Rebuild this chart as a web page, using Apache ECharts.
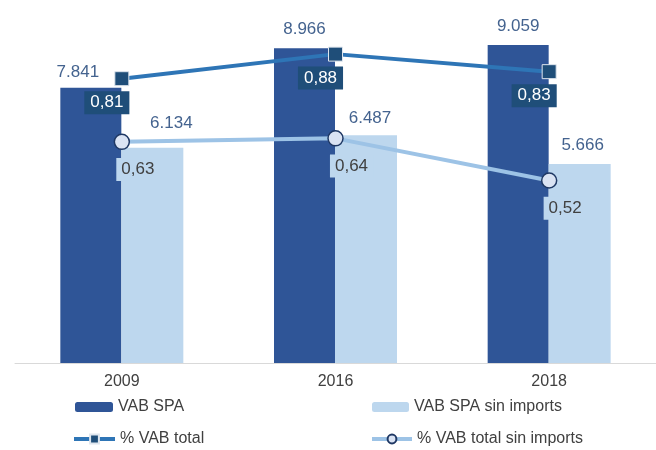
<!DOCTYPE html>
<html>
<head>
<meta charset="utf-8">
<script src="https://cdn.jsdelivr.net/npm/echarts@6/dist/echarts.min.js"></script>
<style>
  html, body { margin: 0; padding: 0; background: #fff; }
  #chart { width: 656px; height: 450px; }
</style>
</head>
<body>
<div id="chart"></div>
<script>
// categorias y valores
var years = ['2009', '2016', '2018'];
var vabSpa = [7.841, 8.966, 9.059];
var vabSpaSinImports = [6.134, 6.487, 5.666];
var pctVabTotal = [0.81, 0.88, 0.83];
var pctVabTotalSinImports = [0.63, 0.64, 0.52];

var font = 'Liberation Sans, Arial, sans-serif';

function fmtMiles(v) {
  return v.toFixed(3);
}
function fmtComa(v) {
  return v.toFixed(2).replace('.', ',');
}

var chart = echarts.init(document.getElementById('chart'));

var legendBase = {
  orient: 'horizontal',
  padding: 0,
  itemGap: 0,
  textStyle: { color: '#404040', fontSize: 16, fontFamily: font }
};

var option = {
  animation: false,
  grid: { left: 15, right: -6, top: 12, bottom: 87 },
  legend: [
    Object.assign({}, legendBase, { left: 75, top: 399, itemWidth: 38, itemHeight: 10, data: ['VAB SPA'] }),
    Object.assign({}, legendBase, { left: 372, top: 399, itemWidth: 37, itemHeight: 10, data: ['VAB SPA sin imports'] }),
    Object.assign({}, legendBase, { left: 72, top: 431, itemWidth: 41, itemHeight: 11,
      lineStyle: { width: 4 }, data: ['% VAB total'] }),
    Object.assign({}, legendBase, { left: 370, top: 431, itemWidth: 40, itemHeight: 11,
      lineStyle: { width: 4 }, data: ['% VAB total sin imports'] })
  ],
  xAxis: {
    type: 'category',
    data: years,
    axisLine: { lineStyle: { color: '#d9d9d9', width: 1 } },
    axisTick: { show: false },
    axisLabel: { color: '#404040', fontSize: 16, fontFamily: font, margin: 11 }
  },
  yAxis: [
    { type: 'value', min: 0, max: 10, show: false, splitLine: { show: false } },
    { type: 'value', min: 0, max: 1, show: false, splitLine: { show: false } }
  ],
  series: [
    {
      name: 'VAB SPA',
      type: 'bar',
      barWidth: 61,
      barGap: '0%',
      itemStyle: { color: '#2f5597' },
      label: {
        show: true, position: 'top', distance: 10,
        color: '#44638f', fontSize: 17, fontFamily: font,
        formatter: function (p) { return fmtMiles(p.value); }
      },
      data: vabSpa.map(function (v, i) {
        return i === 0 ? { value: v, label: { offset: [-13, 3] } } : v;
      })
    },
    {
      name: 'VAB SPA sin imports',
      type: 'bar',
      barWidth: 62,
      barGap: '0%',
      itemStyle: { color: '#bdd7ee' },
      label: {
        show: true, position: 'top', distance: 10,
        color: '#44638f', fontSize: 17, fontFamily: font,
        formatter: function (p) { return fmtMiles(p.value); }
      },
      data: vabSpaSinImports.map(function (v, i) {
        if (i === 0) return { value: v, label: { offset: [19, -6] } };
        if (i === 1) return { value: v, label: { offset: [4, 2] } };
        return { value: v, label: { offset: [3, 0] } };
      })
    },
    {
      name: '% VAB total',
      type: 'line',
      yAxisIndex: 1,
      symbol: 'rect',
      symbolSize: 14,
      z: 5,
      lineStyle: { color: '#2e75b6', width: 4 },
      itemStyle: { color: '#1f4e79', borderColor: '#dfe6ee', borderWidth: 1 },
      label: {
        show: true, position: 'bottom', distance: 5, offset: [-15, 0],
        color: '#ffffff', backgroundColor: '#1f4e79',
        padding: [3, 6], fontSize: 17, fontFamily: font,
        formatter: function (p) { return fmtComa(p.value); }
      },
      data: pctVabTotal
    },
    {
      name: '% VAB total sin imports',
      type: 'line',
      yAxisIndex: 1,
      symbol: 'circle',
      symbolSize: 15,
      z: 5,
      lineStyle: { color: '#9dc3e6', width: 4 },
      itemStyle: { color: '#dae3f3', borderColor: '#1f3864', borderWidth: 1.5 },
      label: {
        show: true, position: 'bottom', distance: 6, offset: [16, 2],
        color: '#404040', backgroundColor: '#bdd7ee',
        padding: [3, 5], fontSize: 17, fontFamily: font,
        formatter: function (p) { return fmtComa(p.value); }
      },
      data: pctVabTotalSinImports
    }
  ]
};

chart.setOption(option);
</script>
</body>
</html>
